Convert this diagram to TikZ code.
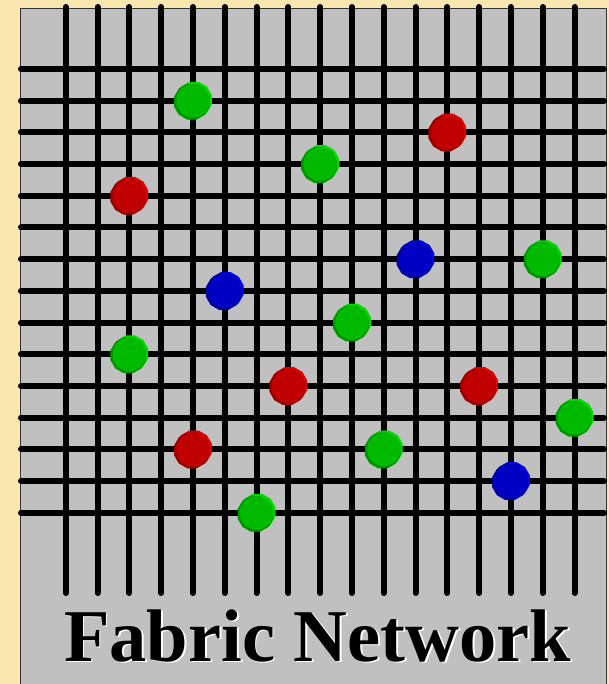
\documentclass[tikz,border=0pt]{standalone}
\usepackage{fontspec}
\setmainfont{Liberation Serif}
\usetikzlibrary{shapes.geometric}
\definecolor{beige}{HTML}{FAE6AF}
\definecolor{panel}{HTML}{C0C0C0}
\definecolor{gmain}{HTML}{00BA00}
\definecolor{glight}{HTML}{00DC00}
\definecolor{gdark}{HTML}{009400}
\definecolor{rmain}{HTML}{C00000}
\definecolor{rlight}{HTML}{E00000}
\definecolor{rdark}{HTML}{960000}
\definecolor{bmain}{HTML}{0000C4}
\definecolor{blight}{HTML}{0000E6}
\definecolor{bdark}{HTML}{00009A}
\tikzset{
  gridline/.style={line width=6pt, line cap=round, black},
  ballpart/.style={regular polygon, regular polygon sides=12, inner sep=0pt, draw=none},
  ballrim/.style={ballpart, minimum size=37pt},
  ballcore/.style={ballpart, minimum size=34pt},
  title/.style={font=\bfseries\fontsize{74.5}{74.5}\selectfont, inner sep=0pt, anchor=base}
}
\newcommand{\mkball}[5]{%
  \node[ballrim, fill=#4light] at (#2+1,#3-1) {};
  \node[ballrim, fill=#4dark] at (#2-1,#3+1) {};
  \node[ballcore, fill=#4main] (#1) at (#2,#3) {};
}
\begin{document}
\begin{tikzpicture}[x=1pt,y=-1pt]
\useasboundingbox (0,0) rectangle (609,684);
\fill[beige] (0,0) rectangle (609,684);
\filldraw[fill=panel, draw=black!80, line width=0.8pt] (20,8) rectangle (606,690);
% horizontal lines
\foreach \j in {0,...,14} {
  \draw[gridline] (21,69+31.7*\j) -- (604,69+31.7*\j);
}
% vertical lines
\foreach \i in {0,...,16} {
  \draw[gridline] (65.7+31.8*\i,7) -- (65.7+31.8*\i,593);
}
% balls: grid x = 65.7+31.8 i, y = 69+31.7 j
\mkball{g1}{192.9}{100.7}{g}{}
\mkball{g2}{320.1}{164.1}{g}{}
\mkball{g3}{542.7}{259.2}{g}{}
\mkball{g4}{351.9}{322.6}{g}{}
\mkball{g5}{129.3}{354.3}{g}{}
\mkball{g6}{574.5}{417.7}{g}{}
\mkball{g7}{383.7}{449.4}{g}{}
\mkball{g8}{256.5}{512.8}{g}{}
\mkball{r1}{447.3}{132.4}{r}{}
\mkball{r2}{129.3}{195.8}{r}{}
\mkball{r3}{288.3}{386}{r}{}
\mkball{r4}{479.1}{386}{r}{}
\mkball{r5}{192.9}{449.4}{r}{}
\mkball{b1}{415.5}{259.2}{b}{}
\mkball{b2}{224.7}{290.9}{b}{}
\mkball{b3}{510.9}{481.1}{b}{}
% title
\node[title, white] at (319.3,662.8) {Fabric Network};
\node[title, black] (ttl) at (317.5,661) {Fabric Network};
\end{tikzpicture}
\end{document}
